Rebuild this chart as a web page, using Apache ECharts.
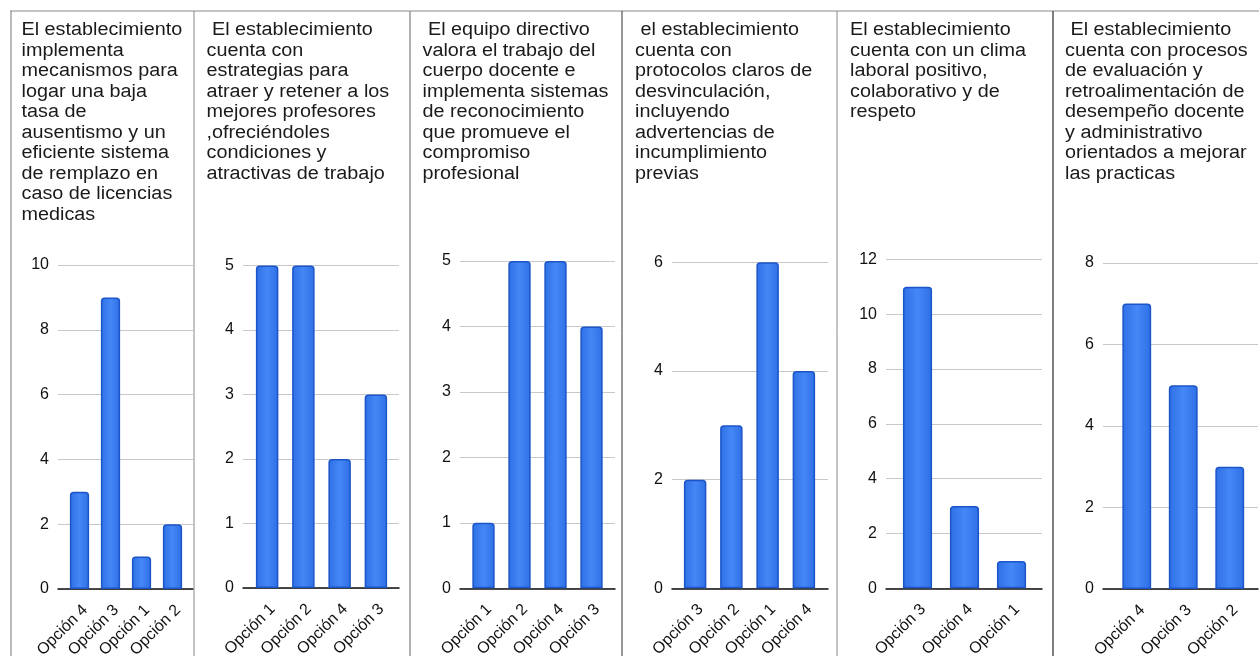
<!DOCTYPE html>
<html><head><meta charset="utf-8">
<script src="https://cdn.jsdelivr.net/npm/echarts@6/dist/echarts.min.js"></script>
<style>html,body{margin:0;padding:0;background:#fff}#c{width:1259px;height:656px}</style>
</head><body><div id="c"></div>
<script>
// ---- data ----
const cats1 = ['Opción 4', 'Opción 3', 'Opción 1', 'Opción 2'];
const vals1 = [3, 9, 1, 2];
const cats2 = ['Opción 1', 'Opción 2', 'Opción 4', 'Opción 3'];
const vals2 = [5, 5, 2, 3];
const cats3 = ['Opción 1', 'Opción 2', 'Opción 4', 'Opción 3'];
const vals3 = [1, 5, 5, 4];
const cats4 = ['Opción 3', 'Opción 2', 'Opción 1', 'Opción 4'];
const vals4 = [2, 3, 6, 4];
const cats5 = ['Opción 3', 'Opción 4', 'Opción 1'];
const vals5 = [11, 3, 1];
const cats6 = ['Opción 4', 'Opción 3', 'Opción 2'];
const vals6 = [7, 5, 3];
const titles = [
  'El establecimiento\nimplementa\nmecanismos para\nlogar una baja\ntasa de\nausentismo y un\neficiente sistema\nde remplazo en\ncaso de licencias\nmedicas',
  ' El establecimiento\ncuenta con\nestrategias para\natraer y retener a los\nmejores profesores\n,ofreciéndoles\ncondiciones y\natractivas de trabajo',
  ' El equipo directivo\nvalora el trabajo del\ncuerpo docente e\nimplementa sistemas\nde reconocimiento\nque promueve el\ncompromiso\nprofesional',
  ' el establecimiento\ncuenta con\nprotocolos claros de\ndesvinculación,\nincluyendo\nadvertencias de\nincumplimiento\nprevias',
  'El establecimiento\ncuenta con un clima\nlaboral positivo,\ncolaborativo y de\nrespeto',
  ' El establecimiento\ncuenta con procesos\nde evaluación y\nretroalimentación de\ndesempeño docente\ny administrativo\norientados a mejorar\nlas practicas'
];
const axisMax = [10, 5, 5, 6, 12, 8];
const axisStep = [2, 1, 1, 2, 2, 2];

const panels = [
  {cats: cats1, vals: vals1}, {cats: cats2, vals: vals2}, {cats: cats3, vals: vals3},
  {cats: cats4, vals: vals4}, {cats: cats5, vals: vals5}, {cats: cats6, vals: vals6}
];

// ---- layout (positions only) ----
const layout = [
  {bg: [58, 193],   band: [64, 188],     top: 265,   bottom: 589,   tx: 21.5},
  {bg: [243, 399],  band: [249, 394],    top: 265.5, bottom: 588,   tx: 206.5},
  {bg: [460, 615],  band: [465.5, 609.5],top: 261,   bottom: 588.3, tx: 422.5},
  {bg: [672, 828],  band: [677, 822],    top: 262.3, bottom: 588.3, tx: 635},
  {bg: [886, 1042], band: [894, 1035],   top: 259.3, bottom: 588.3, tx: 850},
  {bg: [1103, 1258],band: [1113.5, 1253],top: 262.8, bottom: 589,   tx: 1065}
];
const borders = [
  {x: 11, c: '#777', w: 1}, {x: 194, c: '#888', w: 1}, {x: 410, c: '#999', w: 1.5},
  {x: 622, c: '#333', w: 1}, {x: 837, c: '#888', w: 1}, {x: 1053, c: '#555', w: 1.5}
];

const grid = [], xAxis = [], yAxis = [], series = [], graphic = [];
const labelFont = 'Liberation Sans';

panels.forEach((p, i) => {
  const L = layout[i];
  grid.push({left: L.bg[0], width: L.bg[1] - L.bg[0], top: L.top, height: L.bottom - L.top,
    containLabel: false, outerBoundsMode: 'none'});
  grid.push({left: L.band[0], width: L.band[1] - L.band[0], top: L.top, height: L.bottom - L.top,
    containLabel: false, outerBoundsMode: 'none'});
  const gb = 2 * i, gf = 2 * i + 1;
  xAxis.push({
    gridIndex: gb, type: 'category', data: p.cats,
    axisLine: {show: true, lineStyle: {color: '#111', width: 1.5}},
    axisTick: {show: false}, axisLabel: {show: false}, splitLine: {show: false}
  });
  xAxis.push({
    gridIndex: gf, type: 'category', data: p.cats,
    axisLine: {show: false}, axisTick: {show: false},
    axisLabel: {show: true, interval: 0, rotate: 45, margin: 13, fontSize: 16,
      verticalAlign: 'top', fontFamily: labelFont, color: '#111', hideOverlap: false}
  });
  yAxis.push({
    gridIndex: gb, type: 'value', min: 0, max: axisMax[i], interval: axisStep[i],
    axisLine: {show: false}, axisTick: {show: false},
    axisLabel: {show: true, margin: 9, fontSize: 16, fontFamily: labelFont, color: '#111'},
    splitLine: {show: true, lineStyle: {color: '#c8c8c8', width: 1}}
  });
  yAxis.push({
    gridIndex: gf, type: 'value', min: 0, max: axisMax[i], interval: axisStep[i],
    show: false, splitLine: {show: false}
  });
  series.push({
    type: 'bar', xAxisIndex: gf, yAxisIndex: gf, data: p.vals,
    barCategoryGap: '38%', z: 3,
    itemStyle: {
      color: {type: 'linear', x: 0, y: 0, x2: 1, y2: 0, colorStops: [
        {offset: 0, color: '#2f6fe6'}, {offset: 0.5, color: '#4487f5'}, {offset: 1, color: '#2f6fe6'}]},
      borderColor: '#1b55c8', borderWidth: 1.5, borderRadius: [3, 3, 0, 0]
    },
    emphasis: {disabled: true}, animation: false
  });
  graphic.push({
    type: 'text', x: L.tx, y: 20, scaleX: 1.1, z: 10,
    style: {text: titles[i], font: '18px "Liberation Sans"', lineHeight: 20.5, fill: '#1a1a1a'}
  });
});

graphic.push({type: 'line', shape: {x1: 10, y1: 11, x2: 1259, y2: 11}, style: {stroke: '#888', lineWidth: 1}, z: 20});
borders.forEach(b => {
  graphic.push({type: 'line', shape: {x1: b.x, y1: 11, x2: b.x, y2: 656}, style: {stroke: b.c, lineWidth: b.w}, z: 20});
});

const chart = echarts.init(document.getElementById('c'), null, {renderer: 'canvas'});
chart.setOption({
  animation: false,
  backgroundColor: '#fff',
  grid, xAxis, yAxis, series, graphic
});
</script>
</body></html>
